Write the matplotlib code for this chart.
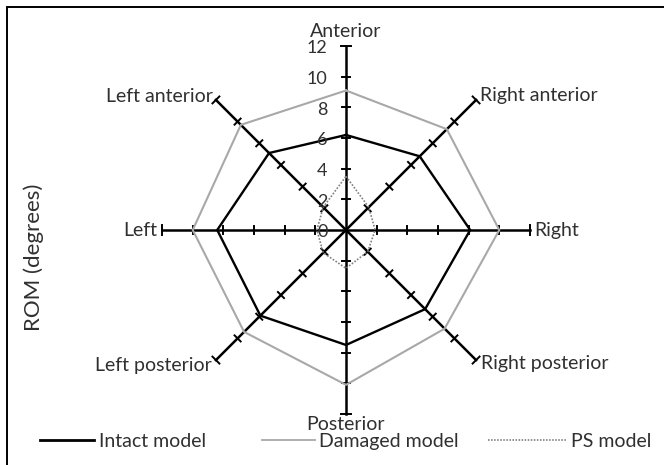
import numpy as np
import matplotlib.pyplot as plt
from matplotlib.patches import Rectangle
from matplotlib.lines import Line2D

plt.rcParams['font.family'] = ['Lato', 'DejaVu Sans']

directions = ['Anterior', 'Right anterior', 'Right', 'Right posterior',
              'Posterior', 'Left posterior', 'Left', 'Left anterior']
angles_deg = [90, 45, 0, -45, -90, -135, 180, 135]
intact = [6.2, 6.8, 8.1, 7.3, 7.5, 7.9, 8.4, 7.1]
damaged = [9.1, 9.3, 10.0, 9.1, 10.1, 9.4, 10.0, 9.7]
ps_model = [3.5, 2.1, 1.9, 2.0, 2.5, 2.1, 1.9, 2.1]
ticks = [0, 2, 4, 6, 8, 10, 12]
series_names = ['Intact model', 'Damaged model', 'PS model']

W, H = 664, 465
px = 15.33  # pixels per degree
cx, cy = 346, 230
txt = '#303030'

fig = plt.figure(figsize=(W / 100, H / 100), dpi=100)
ax = fig.add_axes([0, 0, 1, 1])
ax.set_xlim(-cx / px, (W - cx) / px)
ax.set_ylim(-(H - cy) / px, cy / px)
ax.axis('off')

# outer frame (cropped at right and bottom)
fig.patches.append(Rectangle((7 / W, -0.1), 1.2, 1 - 7 / H + 0.1, transform=fig.transFigure,
                             fill=False, ec='black', lw=1.4))

th = np.deg2rad(angles_deg)

# spokes with tick marks
rmax = ticks[-1]
for a in th:
    ax.plot([0, rmax * np.cos(a)], [0, rmax * np.sin(a)], color='black', lw=1.8, zorder=2)
    nx, ny = -np.sin(a), np.cos(a)
    for t in ticks[1:]:
        h = 0.28 if t < rmax else 0.32
        x0, y0 = t * np.cos(a), t * np.sin(a)
        ax.plot([x0 - h * nx, x0 + h * nx], [y0 - h * ny, y0 + h * ny], color='black', lw=1.4, zorder=2)

def closed(vals):
    v = np.array(vals + vals[:1])
    a = np.append(th, th[0])
    return v * np.cos(a), v * np.sin(a)

x, y = closed(damaged)
ax.plot(x, y, color='#a8a8a8', lw=1.5, zorder=3)
x, y = closed(intact)
ax.plot(x, y, color='black', lw=1.7, zorder=4)
x, y = closed(ps_model)
ax.plot(x, y, color='#808080', lw=1.2, ls=(0, (1, 1)), zorder=3)

# scale labels on anterior spoke
for t in ticks:
    ax.text(-1.2, t - 0.15, str(t), ha='right', va='center', fontsize=13, color=txt, zorder=5)

# direction labels
lab = {
    'Anterior': (0, 12.95, 'center', 'center'),
    'Right anterior': (8.75, 8.8, 'left', 'center'),
    'Right': (12.3, 0, 'left', 'center'),
    'Right posterior': (8.8, -8.7, 'left', 'center'),
    'Posterior': (0, -12.7, 'center', 'center'),
    'Left posterior': (-8.75, -8.85, 'right', 'center'),
    'Left': (-12.3, 0, 'right', 'center'),
    'Left anterior': (-8.7, 8.7, 'right', 'center'),
}
for d in directions:
    lx, ly, ha, va = lab[d]
    ax.text(lx, ly, d, ha=ha, va=va, fontsize=14, color=txt)

ax.text(-20.4, -1.75, 'ROM (degrees)', rotation=90, ha='center', va='center',
        fontsize=16, color=txt)

# legend, one entry at a time
handles = [Line2D([], [], color='black', lw=2.0),
           Line2D([], [], color='#a8a8a8', lw=1.3),
           Line2D([], [], color='#707070', lw=1.1, ls=(0, (1, 1)))]
starts = [40, 262, 488]
hlens = [2.8, 2.7, 4.0]
for hd, name, x0, hl in zip(handles, series_names, starts, hlens):
    fig.legend([hd], [name], loc='center left', bbox_to_anchor=(x0 / W, 1 - 441 / H),
               frameon=False, fontsize=14, handlelength=hl, handletextpad=0.25,
               borderaxespad=0, borderpad=0, labelcolor=txt)

fig.savefig('out.png', dpi=100)
